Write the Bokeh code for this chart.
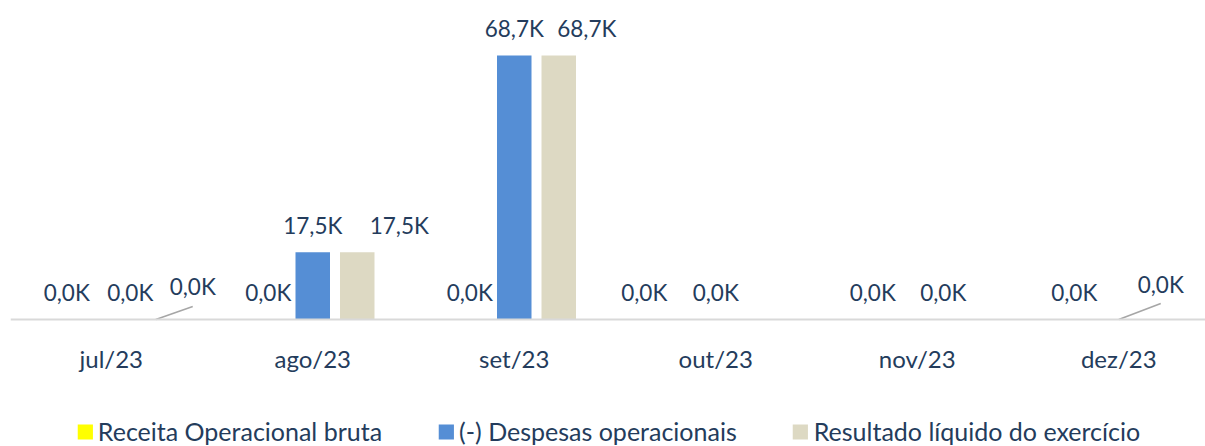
from bokeh.plotting import figure
from bokeh.models import (ColumnDataSource, Range1d, LinearAxis, FixedTicker,
                          Legend, LegendItem)
from bokeh.core.properties import value
from bokeh.embed import file_html
from bokeh.resources import INLINE

# ---------------- data ----------------
months = ["jul/23", "ago/23", "set/23", "out/23", "nov/23", "dez/23"]
receita = [0, 0, 0, 0, 0, 0]
despesas = [0, 17500, 68700, 0, 0, 0]
resultado = [0, 17500, 68700, None, None, None]
series_names = ["Receita Operacional bruta", "(-) Despesas operacionais",
                "Resultado líquido do exercício"]

# ---------------- style ----------------
colors = ["#FFFF00", "#558ED5", "#DDD9C3"]
text_color = "#243C5C"
FONT = "Lato"
W, H = 1205, 446
LEFT = 10
CAT_PX = 201.5                 # pixels per month
BASE = 319                     # canvas y of the zero line
PX_PER_UNIT = 264 / 68700      # vertical scale
group_off = [-44.5 / CAT_PX, 0.0, 44.5 / CAT_PX]
bar_w = 34.5 / CAT_PX
# label nudges in pixels (series x month)
label_dx = [[0, 0, 0, -27, 0, 0], [19, 0, 0, 0, 26, 42], [37, 42, 28, 0, 0, 0]]
label_dy = [[0] * 6, [0, 0, 0, 0, 0, -8], [-6, 0, 0, 0, 0, 0]]
# leader lines: (series, month, dx px, rise px)
leaders = [(2, 0, 37, 13), (1, 5, 42, 16)]

series = [receita, despesas, resultado]

p = figure(width=W, height=H, output_backend="svg", toolbar_location=None,
           x_axis_location=None, y_axis_location=None,
           x_range=Range1d(0, (W - LEFT) / CAT_PX),
           y_range=Range1d(-(H - BASE) / PX_PER_UNIT, BASE / PX_PER_UNIT),
           min_border_left=LEFT, min_border_right=0, min_border_top=0,
           min_border_bottom=0)
p.outline_line_color = None
p.grid.visible = False
p.background_fill_color = "white"
p.border_fill_color = "white"

xs = [i + 0.5 for i in range(len(months))]
renderers = []
for s, vals in enumerate(series):
    src = ColumnDataSource(dict(
        x=[x + group_off[s] for x in xs],
        top=[float("nan") if v is None else v for v in vals]))
    r = p.vbar(x="x", top="top", bottom=0, width=bar_w, source=src,
               fill_color=colors[s], line_color=None)
    renderers.append(r)

# data labels
lx, ly, lt, ldx, ldy = [], [], [], [], []
for s, vals in enumerate(series):
    for i, v in enumerate(vals):
        if v is None:
            continue
        lx.append(xs[i] + group_off[s])
        ly.append(v)
        lt.append(f"{v / 1000:.1f}K".replace(".", ","))
        ldx.append(label_dx[s][i])
        ldy.append(-27 + label_dy[s][i])
p.text(x="x", y="y", text="t", x_offset="dx", y_offset="dy",
       source=ColumnDataSource(dict(x=lx, y=ly, t=lt, dx=ldx, dy=ldy)),
       text_font=value(FONT), text_font_size=value("22.5px"),
       text_color=text_color, text_align="center", text_baseline="alphabetic")

# leader lines
x0, y0, x1, y1 = [], [], [], []
for s, i, dxp, rise in leaders:
    bx = xs[i] + group_off[s]
    x0.append(bx)
    y0.append(0)
    x1.append(bx + dxp / CAT_PX)
    y1.append(rise / PX_PER_UNIT)
p.segment(x0=x0, y0=y0, x1=x1, y1=y1, line_color="#A6A6A6", line_width=1.5)

# category axis at zero
ax = LinearAxis(fixed_location=0,
                ticker=FixedTicker(ticks=xs),
                major_label_overrides={x: m for x, m in zip(xs, months)})
ax.axis_line_color = "#D9D9D9"
ax.axis_line_width = 2
ax.major_tick_line_color = None
ax.minor_tick_line_color = None
ax.major_label_standoff = 18
ax.major_label_text_font = FONT
ax.major_label_text_font_size = "24px"
ax.major_label_text_color = text_color
p.add_layout(ax, "below")

legend = Legend(items=[LegendItem(label=n, renderers=[r])
                       for n, r in zip(series_names, renderers)],
                orientation="horizontal", location="bottom_center",
                glyph_width=19, glyph_height=19, label_standoff=4,
                spacing=54, padding=0, margin=0,
                label_text_font=FONT, label_text_font_size="25px",
                label_text_color=text_color,
                border_line_alpha=0, background_fill_alpha=0)
p.add_layout(legend)

open("out.html", "w").write(file_html(p, INLINE))
